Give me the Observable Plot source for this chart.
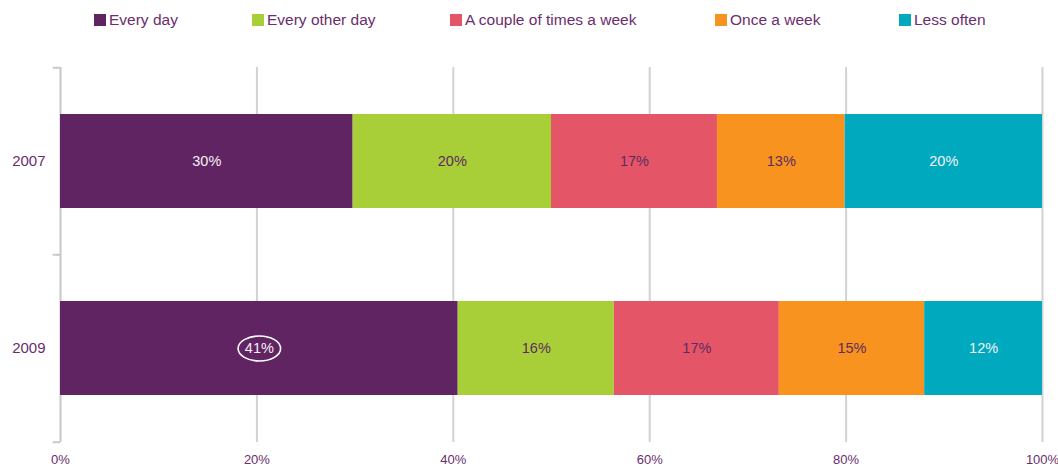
<!DOCTYPE html>
<html>
<head>
<meta charset="utf-8">
<script src="https://cdn.jsdelivr.net/npm/d3@7"></script>
<script src="https://cdn.jsdelivr.net/npm/@observablehq/plot@0.6"></script>
<style>
  html, body { margin: 0; padding: 0; background: #fff; }
  body { width: 1058px; height: 466px; overflow: hidden; font-family: "Liberation Sans", Arial, sans-serif; }
  #legend { height: 40px; position: relative; }
  .item { position: absolute; top: 0; height: 40px; display: flex; align-items: center; font-size: 15.5px; color: #6b2d6d; white-space: nowrap; }
  .sw { width: 12px; height: 12px; margin-right: 3px; }
  #chart svg { display: block; }
</style>
</head>
<body>
<div id="legend"></div>
<div id="chart"></div>
<script>
const years = ["2007", "2009"];
const categories = ["Every day", "Every other day", "A couple of times a week", "Once a week", "Less often"];
const colors = ["#612462", "#a9cf38", "#e45667", "#f7931e", "#00a9bd"];
const values2007 = [29.8, 20.2, 16.9, 13.0, 20.1];
const values2009 = [40.5, 15.9, 16.8, 14.8, 12.0];
const labels2007 = ["30%", "20%", "17%", "13%", "20%"];
const labels2009 = ["41%", "16%", "17%", "15%", "12%"];
const whiteLabelCategories = ["Every day", "Less often"];
const xTicks = [0, 20, 40, 60, 80, 100];
const highlightYear = "2009";
const highlightCategory = "Every day";

const textPurple = "#6b2d6d";
const darkLabel = "#5e2a62";
const legendLeft = [94, 252, 450, 715, 899];

const rows = [];
[[years[0], values2007, labels2007], [years[1], values2009, labels2009]].forEach(([year, vals, labs]) => {
  categories.forEach((c, i) => rows.push({year, category: c, value: vals[i], label: labs[i]}));
});

// legend
const legend = document.getElementById("legend");
categories.forEach((c, i) => {
  const it = document.createElement("div");
  it.className = "item";
  it.style.left = legendLeft[i] + "px";
  it.innerHTML = `<span class="sw" style="background:${colors[i]}"></span><span>${c}</span>`;
  legend.appendChild(it);
});

// keep only some stacked rows after stacking
function keep(pred, options) {
  const {transform, ...rest} = options;
  return {
    ...rest,
    transform(data, facets) {
      const r = transform(data, facets);
      return {data: r.data, facets: r.facets.map(f => Array.from(f).filter(i => pred(r.data[i])))};
    }
  };
}

const W = 1058, H = 426, MT = 27, MB = 24;
const step = (H - MT - MB) / years.length;

const ellipse = {
  draw(ctx, size) {
    const ry = Math.sqrt(size / Math.PI), rx = ry * 1.7, k = 0.5523;
    ctx.moveTo(rx, 0);
    ctx.bezierCurveTo(rx, ry * k, rx * k, ry, 0, ry);
    ctx.bezierCurveTo(-rx * k, ry, -rx, ry * k, -rx, 0);
    ctx.bezierCurveTo(-rx, -ry * k, -rx * k, -ry, 0, -ry);
    ctx.bezierCurveTo(rx * k, -ry, rx, -ry * k, rx, 0);
    ctx.closePath();
  }
};

const stackOpts = {x: "value", y: "year", order: null};

const chart = Plot.plot({
  width: W,
  height: H,
  marginTop: MT,
  marginBottom: MB,
  marginLeft: 60,
  marginRight: 16,
  style: {fontFamily: "'Liberation Sans', Arial, sans-serif", background: "#fff"},
  x: {domain: [0, 100], label: null},
  y: {domain: years, paddingInner: 0.495, paddingOuter: 0.2475, label: null},
  color: {domain: categories, range: colors},
  marks: [
    Plot.ruleX(xTicks.slice(1), {stroke: "#d2d2d2", strokeWidth: 2}),
    Plot.ruleX([0], {stroke: "#c8c8c8", strokeWidth: 2}),
    Plot.ruleY(years, {y: d => d, x1: -0.75, x2: 0, dy: -step / 2, stroke: "#c8c8c8", strokeWidth: 2}),
    Plot.ruleY(years.slice(-1), {y: d => d, x1: -0.75, x2: 0, dy: step / 2, stroke: "#c8c8c8", strokeWidth: 2}),
    Plot.barX(rows, Plot.stackX({...stackOpts, fill: "category"})),
    Plot.text(rows, keep(d => whiteLabelCategories.includes(d.category),
      Plot.stackX({...stackOpts, text: "label", fill: "#f4f0f4", fontSize: 14.5}))),
    Plot.text(rows, keep(d => !whiteLabelCategories.includes(d.category),
      Plot.stackX({...stackOpts, text: "label", fill: darkLabel, fontSize: 14.5}))),
    Plot.dot(rows, keep(d => d.year === highlightYear && d.category === highlightCategory,
      Plot.stackX({...stackOpts, symbol: ellipse, r: 12.5, stroke: "#ffffff", strokeWidth: 1.6, fill: "none"}))),
    Plot.axisX({ticks: xTicks, tickFormat: d => d + "%", tickSize: 0, tickPadding: 12, fontSize: 13, fill: textPurple, label: null}),
    Plot.axisY({tickSize: 0, tickPadding: 15, fontSize: 15, fill: textPurple, label: null})
  ]
});
document.getElementById("chart").appendChild(chart);
</script>
</body>
</html>
